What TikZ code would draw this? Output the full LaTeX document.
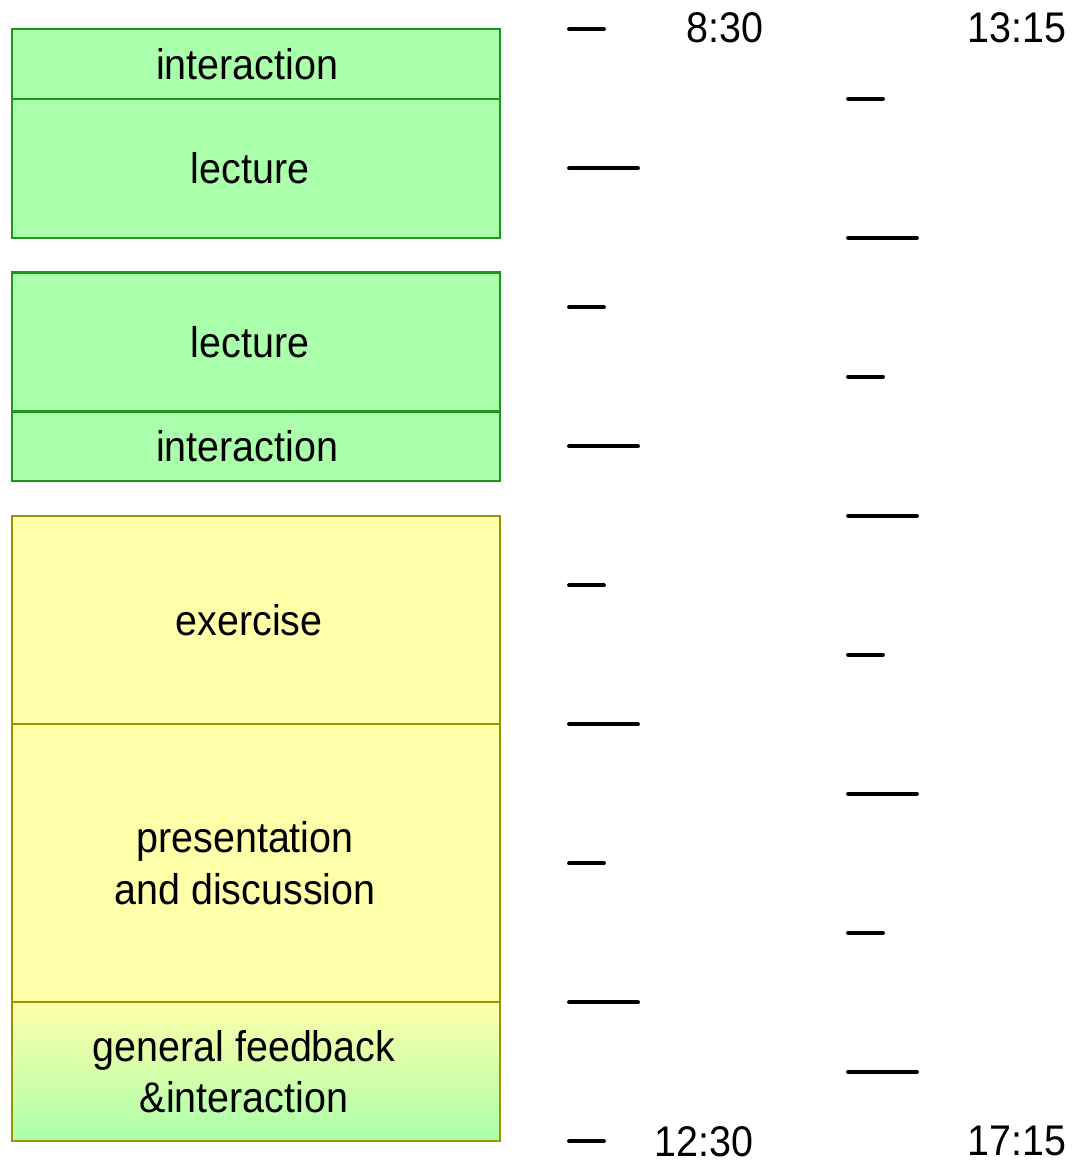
\documentclass[tikz,border=0pt]{standalone}
\usepackage{fontspec}
\setmainfont{Liberation Sans}[FakeStretch=0.92]
\usetikzlibrary{positioning}
\definecolor{grn}{RGB}{170,255,170}
\definecolor{grnline}{RGB}{30,150,30}
\definecolor{yel}{RGB}{255,255,170}
\definecolor{yelline}{RGB}{150,150,0}
\tikzset{every node/.style={font=\fontsize{12.2}{14.7}\selectfont}}
\tikzset{slot/.style={shape=rectangle, draw, minimum width=4.875cm,
    inner sep=0pt, outer sep=0pt, line width=0.6pt}}
\tikzset{talk/.style={slot, fill=grn, draw=grnline}}
\tikzset{work/.style={slot, fill=yel, draw=yelline}}
\tikzset{tick/.style={line width=1.1pt, line cap=round}}

\begin{document}
\begin{tikzpicture}[node distance=0cm, align=center]
    \useasboundingbox (0,0) rectangle (10.74,-11.61);

    % morning blocks
    \node(s1)[talk, minimum height=0.695cm, anchor=north west] at (0.123,-0.293) {};
    \node(s2)[talk, minimum height=1.39cm, below=of s1]            {};
    \node(s3)[talk, minimum height=1.39cm, below=0.347cm of s2]    {};
    \node(s4)[talk, minimum height=0.695cm, below=of s3]           {};
    \node(s5)[work, minimum height=2.085cm, below=0.347cm of s4]   {};
    \node(s6)[work, minimum height=2.78cm, below=of s5]            {};
    \node(s7)[slot, minimum height=1.39cm, below=of s6, draw=yelline,
        top color=yel, bottom color=grn]                           {};

    \node(l1) at ([xshift=-0.09cm]s1) {interaction};
    \node(l2) at ([xshift=-0.06cm]s2) {lecture};
    \node(l3) at ([xshift=-0.06cm]s3) {lecture};
    \node(l4) at ([xshift=-0.09cm]s4) {interaction};
    \node(l5) at ([xshift=-0.07cm]s5) {exercise};
    \node(l6) at ([xshift=-0.11cm]s6) {presentation\\and discussion};
    \node(l7) at ([xshift=-0.12cm]s7) {general feedback\\\&interaction};

    % time scales
    \foreach \k in {0,2,4,6,8}
        \draw[tick] (5.69,{-0.293-1.39*\k}) -- ++(0.35,0);
    \foreach \k in {1,3,5,7}
        \draw[tick] (5.69,{-0.293-1.39*\k}) -- ++(0.69,0);
    \foreach \k in {0,2,4,6}
        \draw[tick] (8.48,{-0.987-1.39*\k}) -- ++(0.35,0);
    \foreach \k in {1,3,5,7}
        \draw[tick] (8.48,{-0.987-1.39*\k}) -- ++(0.69,0);

    \node(m1) at (7.247,-0.28)   {8:30};
    \node(m2) at (7.038,-11.413) {12:30};
    \node(a1) at (10.17,-0.28)   {13:15};
    \node(a2) at (10.17,-11.413) {17:15};

\end{tikzpicture}
\end{document}
